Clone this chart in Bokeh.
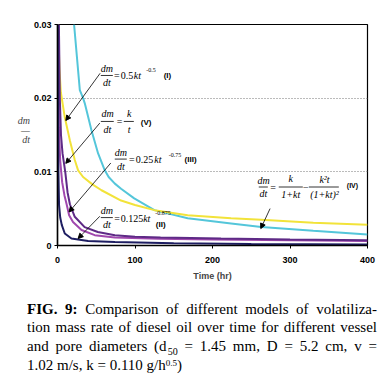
from bokeh.plotting import figure
from bokeh.models import (Label, Arrow, NormalHead, FixedTicker, Div, Range1d)
from bokeh.layouts import column
from bokeh.embed import file_html
from bokeh.resources import INLINE

# ---- data (t in hr, dm/dt) ----
t_I = [21.4, 28.8, 33, 35.2, 43.9, 52.4, 61, 66, 74, 82, 99, 125, 168, 224, 263, 330, 400]
v_I = [0.030, 0.0211, 0.0200, 0.0193, 0.0156, 0.0125, 0.0102, 0.0093, 0.0084, 0.0077,
       0.0064, 0.0048, 0.0037, 0.0030, 0.0025, 0.0020, 0.0015]

t_Y = [0.8, 2.5, 4.3, 9.4, 15.9, 22.3, 26.6, 33, 45, 56.8, 82, 100, 125, 168, 224, 263, 330, 400]
v_Y = [0.030, 0.024, 0.0208, 0.0174, 0.0143, 0.0116, 0.0102, 0.0093, 0.0083, 0.0075,
       0.0061, 0.0055, 0.0048, 0.0041, 0.0037, 0.0035, 0.0031, 0.0028]

t_P = [1.8, 3, 4.5, 6.5, 10, 13, 16, 22.3, 35, 52, 74, 100, 133, 211, 300, 400]
v_P = [0.030, 0.020, 0.015, 0.0125, 0.0100, 0.0072, 0.0056, 0.0039, 0.0025, 0.00184,
       0.0014, 0.0012, 0.0011, 0.00095, 0.0008, 0.0007]

t_M = [1, 1.8, 3.5, 6, 9, 12, 15, 20, 31, 48, 74, 130, 200, 300, 400]
v_M = [0.030, 0.016, 0.0115, 0.0086, 0.0068, 0.0055, 0.0041, 0.0032, 0.0021, 0.0014,
       0.00108, 0.0009, 0.0008, 0.0007, 0.0006]

t_N = [0.3, 0.7, 1.2, 2.0, 3.5, 5.5, 9.4, 18, 39.5, 74, 150, 250, 400]
v_N = [0.030, 0.018, 0.010, 0.0055, 0.0038, 0.0028, 0.00163, 0.00095, 0.00062, 0.00049,
       0.0003, 0.0002, 0.00015]

x_ticks = [0, 100, 200, 300, 400]
y_ticks = [0, 0.01, 0.02, 0.03]
y_tick_labels = ["0", "0.01", "0.02", "0.03"]

p = figure(width=370, height=280, output_backend="svg", toolbar_location=None,
           x_range=Range1d(0, 400), y_range=Range1d(0, 0.03),
           min_border_left=49, min_border_right=11, min_border_top=16, min_border_bottom=43)
p.background_fill_color = "white"
p.outline_line_color = "black"
p.outline_line_width = 1.2

p.line(t_I, v_I, line_color="#54C6DA", line_width=2)
p.line(t_Y, v_Y, line_color="#F2E33A", line_width=2)
p.line(t_M, v_M, line_color="#A048AE", line_width=2)
p.line(t_P, v_P, line_color="#5E2A86", line_width=2)
p.line(t_N, v_N, line_color="#1E1E62", line_width=2)

# axes
p.xaxis.ticker = FixedTicker(ticks=x_ticks)
p.yaxis.ticker = FixedTicker(ticks=y_ticks)
p.yaxis.major_label_overrides = {v: s for v, s in zip(y_ticks, y_tick_labels)}
for ax in (p.xaxis[0], p.yaxis[0]):
    ax.axis_line_color = "black"
    ax.axis_line_width = 1.5
    ax.major_tick_line_color = "black"
    ax.major_tick_out = 3
    ax.major_tick_in = 0
    ax.minor_tick_line_color = None
    ax.major_label_text_font = "Liberation Sans"
    ax.major_label_text_font_style = "bold"
    ax.major_label_text_font_size = "9px"
    ax.major_label_text_color = "black"
p.xaxis.major_label_standoff = 8
p.yaxis.major_label_standoff = 3
p.xaxis.axis_label = "Time (hr)"
p.xaxis.axis_label_text_font = "Liberation Sans"
p.xaxis.axis_label_text_font_style = "bold"
p.xaxis.axis_label_text_font_size = "9px"
p.xaxis.axis_label_standoff = 5

# y axis label: dm over dt as a stacked fraction
p.yaxis.axis_label = "dm\n\u2014\ndt\n\u00a0"
p.yaxis.axis_label_orientation = "horizontal"
p.yaxis.axis_label_text_font = "Liberation Serif"
p.yaxis.axis_label_text_font_style = "italic"
p.yaxis.axis_label_text_font_size = "10px"
p.yaxis.axis_label_text_line_height = 0.85
p.yaxis.axis_label_standoff = 1

p.xgrid.grid_line_color = None
p.ygrid.grid_line_color = "#777777"
p.ygrid.grid_line_dash = "1 2"
p.ygrid.grid_line_width = 1

SERIF = "Liberation Serif"
SANS = "Liberation Sans"

def lab(x, y, txt, size="10px", font=SERIF, style="normal", align="left"):
    p.add_layout(Label(x=x, y=y, text=txt, text_font=font, text_font_size=size,
                       text_font_style=style, text_align=align, text_baseline="middle",
                       text_color="black"))

def bar(x0, x1, y):
    p.add_layout(Arrow(x_start=x0, y_start=y, x_end=x1, y_end=y, start=None, end=None,
                       line_color="black", line_width=0.8))

def frac(xc, ytop, ybot, ybar, x0, x1, top="dm", bottom="dt"):
    lab(xc, ytop, top, style="italic", align="center")
    lab(xc, ybot, bottom, style="italic", align="center")
    bar(x0, x1, ybar)

def arrow(x0, y0, x1, y1):
    p.add_layout(Arrow(x_start=x0, y_start=y0, x_end=x1, y_end=y1,
                       end=NormalHead(size=5, fill_color="black", line_color="black"),
                       line_color="black", line_width=0.8))

# (I)
frac(63.6, 0.02402, 0.02213, 0.02308, 55.9, 71.4)
lab(73.0, 0.02301, "=")
lab(81.7, 0.02301, "0.5")
lab(98.5, 0.02301, "kt", style="italic")
lab(114.5, 0.02376, "-0.5", size="6px")
lab(137, 0.02308, "(I)", size="8px", font=SANS, style="bold")
arrow(55.0, 0.02338, 10.7, 0.01697)

# (V)
frac(64.5, 0.01797, 0.01572, 0.01684, 55.9, 72.6)
lab(76.5, 0.01684, "=")
frac(92.4, 0.01789, 0.01572, 0.01684, 85.5, 98.5, top="k", bottom="t")
lab(107.5, 0.01675, "(V)", size="8px", font=SANS, style="bold")
arrow(54.6, 0.01662, 10.7, 0.01115)

# (III)
frac(81.7, 0.01268, 0.01079, 0.01173, 73.9, 89.4)
lab(92.4, 0.01165, "=")
lab(101, 0.01165, "0.25")
lab(124.8, 0.01165, "kt", style="italic")
lab(143.6, 0.01224, "-0.75", size="6px")
lab(164, 0.01165, "(III)", size="8px", font=SANS, style="bold")
arrow(68.8, 0.01120, 14.9, 0.00455)

# (II)
frac(63.6, 0.00469, 0.00289, 0.00379, 55.9, 71.4)
lab(73.3, 0.0037, "=")
lab(81.7, 0.0037, "0.125")
lab(110.5, 0.0037, "kt", style="italic")
lab(126, 0.00444, "-0.875", size="6px")
lab(126.8, 0.00289, "(II)", size="8px", font=SANS, style="bold")
arrow(54.6, 0.00397, 26.6, 0.00095)

# (IV)
frac(265.8, 0.00885, 0.00705, 0.00794, 259.7, 271.4)
lab(274.5, 0.00794, "=")
frac(301, 0.00908, 0.00691, 0.00794, 285.5, 316.5, top="k", bottom="1+kt")
lab(320.4, 0.00794, "\u2212", align="center")
frac(344.5, 0.00900, 0.00691, 0.00794, 324.3, 363, top="k\u00b2t", bottom="(1+kt)\u00b2")
lab(373.3, 0.0081, "(IV)", size="7px", font=SANS, style="bold")
arrow(274.3, 0.00501, 262.3, 0.00230)

line_style = "text-align: justify; text-align-last: justify; white-space: nowrap;"
sub = '<span style="font-size:10px; position:relative; top:4px; line-height:0; margin-left:1px;">50</span>'
sup = '<span style="font-size:9px; position:relative; top:-4px; line-height:0;">0.5</span>'
caption = (
    '<div style="font-family: \'Liberation Serif\'; font-size: 15px; line-height: 18.3px; color: black; width: 350px;">'
    f'<div style="{line_style}"><b>FIG. 9:</b> Comparison of different models of volatiliza-</div>'
    f'<div style="{line_style}">tion mass rate of diesel oil over time for different vessel</div>'
    f'<div style="{line_style}">and pore diameters (d{sub} = 1.45 mm, D = 5.2 cm, v =</div>'
    f'<div style="white-space: nowrap; margin-top: 1px;">1.02 m/s, k = 0.110 g/h{sup})</div>'
    '</div>'
)
div = Div(text=caption, width=351, margin=(12, 0, 0, 19))

layout = column(p, div, margin=(8, 0, 0, 8))
open("out.html", "w").write(file_html(layout, INLINE))
